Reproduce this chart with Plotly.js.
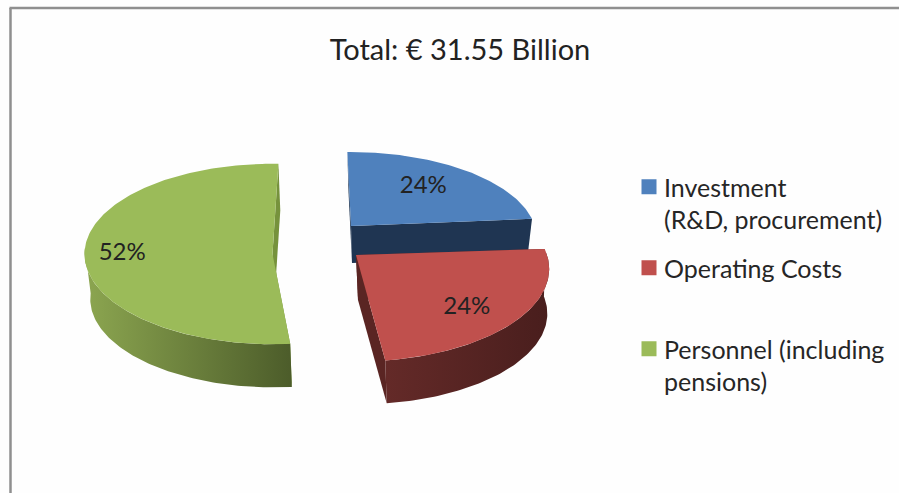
<!DOCTYPE html>
<html><head><meta charset="utf-8">
<script src="https://cdn.plot.ly/plotly-3.0.1.min.js"></script>
<style>html,body{margin:0;padding:0;background:#fefefe}#c{width:899px;height:493px}</style>
</head><body><div id="c"></div>
<script>
const titleText = "Total: € 31.55 Billion";
const categories = ["Investment<br>(R&D, procurement)", "Operating Costs<br> ", "Personnel (including<br>pensions)"];
const shares = [24, 24, 52];
const faceColors = ["#4f81bd", "#c0504d", "#9bbb59"];
const spokeColors = ["#1f3552", "#5a2523", "#76923c"];
const wallLeft = ["#1f3552", "#642a28", "#8ca650"];
const wallRight = ["#1f3552", "#491e1d", "#4c5c2a"];
// projection of each exploded slice: apex, radius, flattening, perspective, wall depth
const apexX = [351, 356, 272.5];
const apexY = [226, 255, 254];
const radius = [184, 191, 188];
const flatten = [0.462, 0.474, 0.48];
const persp = [0.15, 0.15, 0.0];
const rotate = [-1.3, -0.3, 1.8];
const wallDx = [1, 2, 2];
const wallDy = [37, 45, 45];
const wallScale = [0.97, 0.98, 0.98];
const labelFrac = [0.63, 0.7, 0.8];
const labelDy = [-2, 10, -2];

function pt(i, deg, frac, bottom) {
  const t = (deg + rotate[i]) * Math.PI / 180;
  const s = 1 / (1 + persp[i] * frac * Math.cos(t));
  const k = bottom ? wallScale[i] : 1;
  const ox = bottom ? wallDx[i] : 0, oy = bottom ? wallDy[i] : 0;
  return [apexX[i] + ox + k * radius[i] * frac * Math.sin(t) * s,
          apexY[i] + oy - k * radius[i] * flatten[i] * frac * Math.cos(t) * s];
}
function arc(i, a, b, bottom) {
  const out = [], n = Math.ceil(Math.abs(b - a));
  for (let j = 0; j <= n; j++) out.push(pt(i, a + (b - a) * j / n, 1, bottom));
  return out;
}
function poly(pts, extra) {
  return Object.assign({
    type: "scatter", mode: "lines", x: pts.map(p => p[0]), y: pts.map(p => p[1]),
    fill: "toself", line: {width: 0}, hoverinfo: "skip", showlegend: false
  }, extra);
}
const traces = [];
const spans = [];
let acc = 0;
shares.forEach(v => { spans.push([acc * 3.6, (acc + v) * 3.6]); acc += v; });
[2, 0, 1].forEach(i => {
  const [a, b] = spans[i];
  const apexT = pt(i, a, 0, false), apexB = pt(i, a, 0, true);
  [a, b].forEach(d => traces.push(poly([apexT, pt(i, d, 1, false), pt(i, d, 1, true), apexB], {fillcolor: spokeColors[i]})));
  const ra = Math.max(a, 88), rb = Math.min(b, 272);
  if (rb > ra) {
    const wall = arc(i, ra, rb, false).concat(arc(i, rb, ra, true));
    traces.push(poly(wall, {
      fillcolor: wallLeft[i],
      fillgradient: {type: "horizontal", colorscale: [[0, wallLeft[i]], [1, wallRight[i]]]}
    }));
  }
  traces.push(poly([apexT].concat(arc(i, a, b, false)), {fillcolor: faceColors[i]}));
});
categories.forEach((c, i) => traces.push({
  type: "scatter", mode: "markers", x: [null], y: [null], name: c, legendgroup: "g" + i,
  marker: {symbol: "square", size: 15, color: faceColors[i]}, hoverinfo: "skip"
}));
const lab = shares.map((v, i) => pt(i, (spans[i][0] + spans[i][1]) / 2, labelFrac[i], false));
traces.push({
  type: "scatter", mode: "text", x: lab.map(p => p[0]), y: lab.map((p, i) => p[1] + labelDy[i]),
  text: shares.map(v => v + "%"), textposition: "middle center",
  textfont: {family: "Lato, Open Sans, sans-serif", size: 24, color: "#222"},
  hoverinfo: "skip", showlegend: false
});
const layout = {
  width: 899, height: 493, autosize: false,
  margin: {l: 0, r: 0, t: 0, b: 0},
  paper_bgcolor: "#fefefe", plot_bgcolor: "#fefefe",
  title: {text: titleText, x: 460 / 899, xanchor: "center", y: 1 - 50 / 493, yanchor: "middle",
          font: {family: "Lato, Open Sans, sans-serif", size: 29, color: "#222"}},
  xaxis: {range: [0, 899], visible: false, fixedrange: true},
  yaxis: {range: [493, 0], visible: false, fixedrange: true},
  legend: {x: 624 / 899, xanchor: "left", y: 1 - 164 / 493, yanchor: "top", tracegroupgap: 13, valign: "top",
           bgcolor: "rgba(0,0,0,0)", font: {family: "Lato, Open Sans, sans-serif", size: 25, color: "#262626"}},
  shapes: [
    {type: "line", xref: "paper", yref: "paper", x0: 10.5 / 899, x1: 10.5 / 899, y0: 0, y1: 1 - 8 / 493, line: {color: "#8f8f8f", width: 2.5}},
    {type: "line", xref: "paper", yref: "paper", x0: 9.5 / 899, x1: 1, y0: 1 - 8 / 493, y1: 1 - 8 / 493, line: {color: "#8f8f8f", width: 2.5}}
  ]
};
Plotly.newPlot("c", traces, layout, {displayModeBar: false, staticPlot: true}).then(() => {
  document.querySelectorAll(".legend .legendpoints").forEach(g => g.setAttribute("transform", "translate(5,0)"));
});
</script></body></html>
